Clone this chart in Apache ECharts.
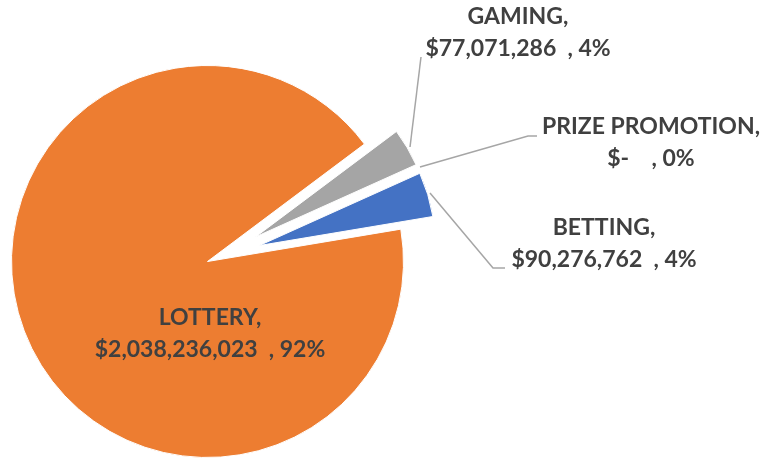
<!DOCTYPE html>
<html>
<head>
<meta charset="utf-8">
<script src="https://cdn.jsdelivr.net/npm/echarts@6/dist/echarts.min.js"></script>
<style>
html, body { margin: 0; padding: 0; background: #fff; }
#chart { width: 768px; height: 459px; }
</style>
</head>
<body>
<div id="chart"></div>
<script>
// data
var categories = ['LOTTERY', 'GAMING', 'PRIZE PROMOTION', 'BETTING'];
var amounts = [2038236023, 77071286, 0, 90276762];
var colors = ['#ED7D31', '#A5A5A5', '#FFC000', '#4472C4'];

// where each label sits, and its leader line (start, bend, end)
var labelPos = {
    'LOTTERY': [210, 334],
    'GAMING': [518, 33],
    'PRIZE PROMOTION': [651, 143],
    'BETTING': [604, 244]
};
var guides = {
    'GAMING': [[410, 147], [421, 57], [421, 57]],
    'PRIZE PROMOTION': [[420, 167], [528, 136], [537, 136]],
    'BETTING': [[430, 193], [493, 268], [505, 268]]
};

var chart = echarts.init(document.getElementById('chart'));

function money(v) {
    if (!v) return '$-   ';
    return '$' + v.toLocaleString('en-US') + ' ';
}

var clear = { color: 'rgba(0,0,0,0)', borderWidth: 0 };

// 第一个饼: lottery 扇形 + 所有标签
var lotteryData = categories.map(function (c, i) {
    if (i === 0) return { name: c, value: amounts[i], itemStyle: { color: colors[i] }, labelLine: { show: false } };
    return { name: c, value: amounts[i], itemStyle: clear };
});
// 第二个饼: 其它三块, 全部外移
var smallData = categories.map(function (c, i) {
    if (i === 0) return { name: c, value: amounts[i], itemStyle: clear };
    return { name: c, value: amounts[i], itemStyle: { color: colors[i] }, selected: true };
});

function layout(p) {
    var name = categories[p.dataIndex];
    var pos = labelPos[name];
    var out = { x: pos[0], y: pos[1], align: 'center', verticalAlign: 'middle' };
    if (guides[name]) out.labelLinePoints = guides[name];
    return out;
}

var option = {
    backgroundColor: '#fff',
    animation: false,
    series: [{
        name: 'small',
        type: 'pie',
        center: [221.5, 257],
        radius: 176,
        startAngle: 9.5,
        clockwise: true,
        silent: true,
        selectedMode: 'multiple',
        selectedOffset: 39.5,
        itemStyle: { borderColor: '#fff', borderWidth: 1 },
        select: { itemStyle: { borderColor: '#fff', borderWidth: 1 } },
        label: { show: false },
        labelLine: { show: false },
        emphasis: { disabled: true },
        data: smallData
    }, {
        name: 'lottery',
        type: 'pie',
        center: [207.5, 261.5],
        radius: 196,
        startAngle: 9.5,
        clockwise: true,
        avoidLabelOverlap: false,
        silent: true,
        percentPrecision: 0,
        itemStyle: { borderColor: '#fff', borderWidth: 1 },
        label: {
            show: true,
            position: 'outside',
            color: '#404040',
            fontFamily: 'Lato',
            fontWeight: 'bold',
            fontSize: 23,
            lineHeight: 32,
            align: 'center',
            formatter: function (p) {
                return p.name + ',\n' + money(p.value) + ' , ' + Math.round(p.percent) + '%';
            }
        },
        labelLine: { show: true, lineStyle: { color: '#A6A6A6', width: 1.5 } },
        labelLayout: layout,
        emphasis: { disabled: true },
        data: lotteryData
    }]
};

chart.setOption(option);
</script>
</body>
</html>
